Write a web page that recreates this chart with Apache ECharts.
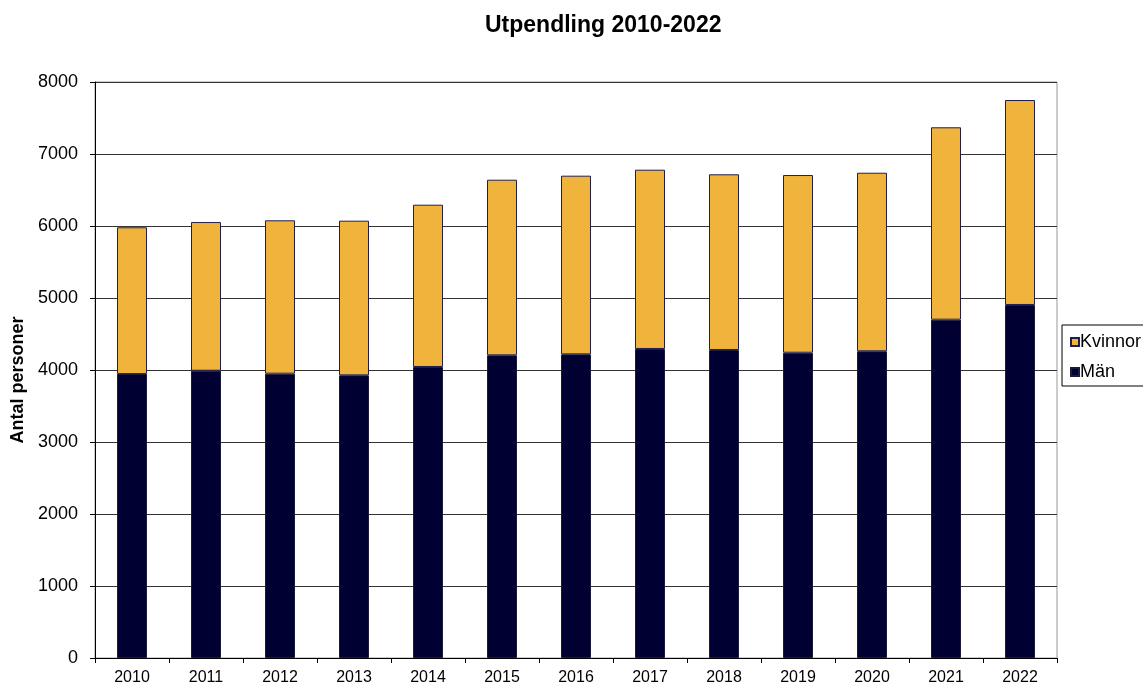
<!DOCTYPE html>
<html style="height: 100%">
<head>
<meta charset="utf-8">
<script src="https://cdn.jsdelivr.net/npm/echarts@6/dist/echarts.min.js"></script>
</head>
<body style="height: 100%; margin: 0; background: #fff">
<div id="container" style="width: 1143px; height: 686px"></div>
<script type="text/javascript">
var years = ['2010', '2011', '2012', '2013', '2014', '2015', '2016', '2017', '2018', '2019', '2020', '2021', '2022'];
var man = [3944, 3990, 3949, 3926, 4042, 4204, 4218, 4292, 4278, 4240, 4260, 4699, 4903];
var kvinnor = [2038, 2065, 2130, 2148, 2254, 2439, 2481, 2490, 2440, 2468, 2480, 2672, 2847];

var chart = echarts.init(document.getElementById('container'));
var font = 'Liberation Sans, Arial, sans-serif';

chart.setOption({
    animation: false,
    textStyle: { fontFamily: font },
    title: {
        text: 'Utpendling 2010-2022',
        left: 480,
        top: 9,
        textStyle: { fontSize: 23, fontWeight: 'bold', color: '#000', fontFamily: font }
    },
    legend: {
        orient: 'vertical',
        left: 1062,
        top: 325,
        data: ['Kvinnor', 'Män'],
        itemWidth: 8,
        itemHeight: 8,
        itemGap: 12,
        icon: 'rect',
        padding: [8, 20, 5, 8],
        borderColor: '#000',
        borderWidth: 1,
        textStyle: { fontSize: 18, color: '#000', fontFamily: font, padding: [0, 0, 0, -4] }
    },
    grid: {
        left: 95, right: 86, top: 82, bottom: 28,
        show: true, borderColor: '#999', borderWidth: 1
    },
    xAxis: {
        type: 'category',
        data: years,
        axisLine: { lineStyle: { color: '#000' } },
        axisTick: { show: true, alignWithLabel: false, length: 5, lineStyle: { color: '#000' } },
        axisLabel: { fontSize: 16, color: '#000', margin: 12 }
    },
    yAxis: {
        type: 'value',
        min: 0, max: 8000, interval: 1000,
        name: 'Antal personer',
        nameLocation: 'middle',
        nameGap: 66,
        nameTextStyle: { fontSize: 18, fontWeight: 'bold', color: '#000', padding: [0, 0, 0, -20] },
        axisLine: { show: true, lineStyle: { color: '#000' } },
        axisTick: { show: true, length: 5, lineStyle: { color: '#000' } },
        axisLabel: { fontSize: 18, color: '#000', margin: 17, formatter: function (v) { return String(v); } },
        splitLine: { lineStyle: { color: '#333', width: 1 } }
    },
    series: [
        {
            name: 'Män',
            type: 'bar',
            stack: 'total',
            data: man,
            barWidth: 30,
            itemStyle: { color: '#000033', borderColor: '#1a1a3a', borderWidth: 1 }
        },
        {
            name: 'Kvinnor',
            type: 'bar',
            stack: 'total',
            data: kvinnor,
            barWidth: 30,
            itemStyle: { color: '#F0B43C', borderColor: '#1f1f4f', borderWidth: 1 }
        }
    ]
});
</script>
</body>
</html>
